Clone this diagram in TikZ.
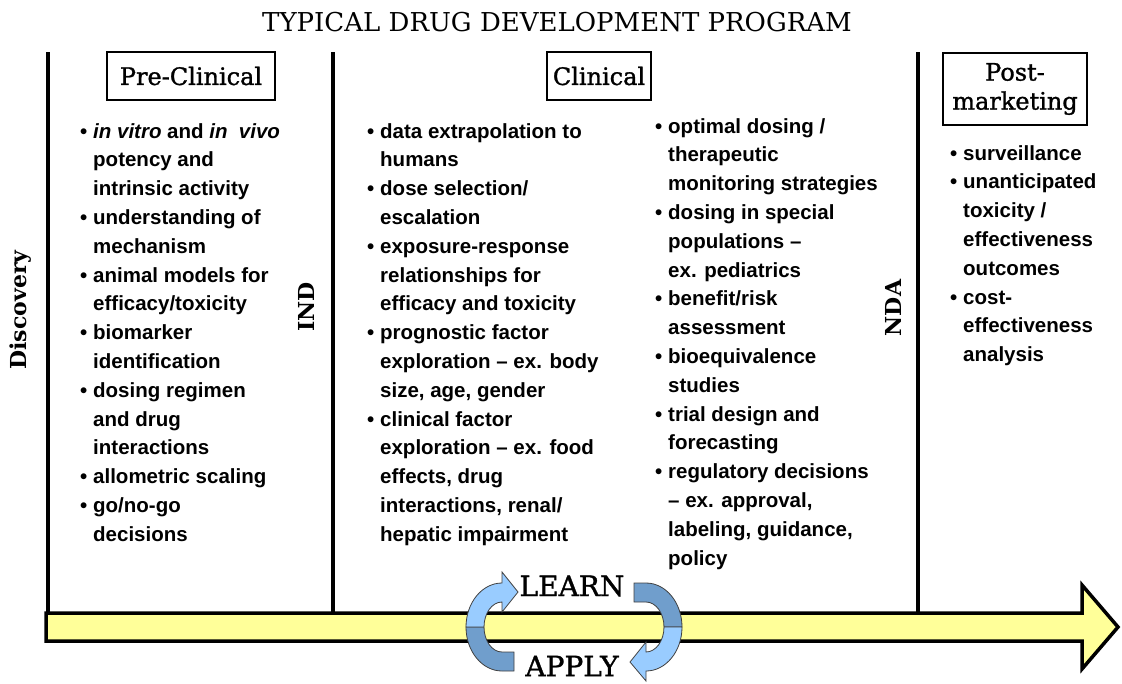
\documentclass[tikz,border=0pt]{standalone}
\usepackage{fontspec}
\setmainfont{DejaVu Serif}
\newfontfamily\headfont[FakeBold=1.2]{DejaVu Serif}
\newfontfamily\listfont[Ligatures=TeX]{Liberation Sans}
\usetikzlibrary{positioning}
\definecolor{timelineyellow}{RGB}{255,255,153}
\definecolor{cyclelight}{RGB}{153,204,255}
\definecolor{cycledark}{RGB}{112,158,204}
\newcommand{\bitem}{\makebox[13pt][l]{\textbullet}}
\newcommand{\bcont}{\hspace*{13pt}}

\begin{document}
\begin{tikzpicture}[x=1pt, y=-1pt,
    every node/.style={inner sep=0pt},
    phase/.style={rectangle, draw=black, line width=1.3pt, fill=white, font=\headfont\fontsize{24}{29}\selectfont, minimum height=48pt, align=center},
    bullets/.style={anchor=north west, align=left, font=\listfont\bfseries\fontsize{20.5}{28.8}\selectfont},
    milestone/.style={rotate=90, font=\bfseries\fontsize{22}{26}\selectfont},
    divider/.style={line width=3.5pt},
    timeline/.style={line width=3.5pt, fill=timelineyellow, line join=miter},
    cyclelabel/.style={font=\headfont\fontsize{28}{30}\selectfont},
    ribbon/.style={draw=black!75, line width=0.8pt}
]
\useasboundingbox (0,0) rectangle (1122,683);

% Title and phase headers
\node[font=\fontsize{26}{30}\selectfont] (title) at (557,22) {TYPICAL DRUG DEVELOPMENT PROGRAM};
\node[phase, minimum width=168pt] (pre) at (191,76) {Pre-Clinical};
\node[phase, minimum width=104pt] (clin) at (599,76) {Clinical};
\node[phase, minimum width=144pt, minimum height=72pt] (post) at (1015,89) {Post-\\marketing};

% Phase dividers
\draw[divider] (48,52) -- (48,614);
\draw[divider] (333,52) -- (333,614);
\draw[divider] (918,52) -- (918,614);

% Milestones along the dividers
\node[milestone] (disc) at (21,310) {Discovery};
\node[milestone] (ind) at (306,307) {IND};
\node[milestone] (nda) at (893,308) {NDA};

% Activities per phase
\node[bullets] (precol) at (80,123) {%
  \bitem\textit{in vitro} and \textit{in}\ \ \textit{vivo}\\
  \bcont potency and\\
  \bcont intrinsic activity\\
  \bitem understanding of\\
  \bcont mechanism\\
  \bitem animal models for\\
  \bcont efficacy/toxicity\\
  \bitem biomarker\\
  \bcont identification\\
  \bitem dosing regimen\\
  \bcont and drug\\
  \bcont interactions\\
  \bitem allometric scaling\\
  \bitem go/no-go\\
  \bcont decisions};

\node[bullets] (clinleft) at (367,123) {%
  \bitem data extrapolation to\\
  \bcont humans\\
  \bitem dose selection/\\
  \bcont escalation\\
  \bitem exposure-response\\
  \bcont relationships for\\
  \bcont efficacy and toxicity\\
  \bitem prognostic factor\\
  \bcont exploration -- ex. body\\
  \bcont size, age, gender\\
  \bitem clinical factor\\
  \bcont exploration -- ex. food\\
  \bcont effects, drug\\
  \bcont interactions, renal/\\
  \bcont hepatic impairment};

\node[bullets] (clinright) at (655,118) {%
  \bitem optimal dosing /\\
  \bcont therapeutic\\
  \bcont monitoring strategies\\
  \bitem dosing in special\\
  \bcont populations --\\
  \bcont ex. pediatrics\\
  \bitem benefit/risk\\
  \bcont assessment\\
  \bitem bioequivalence\\
  \bcont studies\\
  \bitem trial design and\\
  \bcont forecasting\\
  \bitem regulatory decisions\\
  \bcont -- ex. approval,\\
  \bcont labeling, guidance,\\
  \bcont policy};

\node[bullets] (postcol) at (950,145) {%
  \bitem surveillance\\
  \bitem unanticipated\\
  \bcont toxicity /\\
  \bcont effectiveness\\
  \bcont outcomes\\
  \bitem cost-\\
  \bcont effectiveness\\
  \bcont analysis};

% Timeline arrow
\draw[timeline] (46,613) -- (1082,613) -- (1082,585) -- (1118,627) -- (1082,669) -- (1082,641) -- (46,641) -- cycle;

% Learn / apply cycle around the timeline
\draw[ribbon, fill=cycledark] (502,671) arc[start angle=90, end angle=180, x radius=36, y radius=44]
  -- (484,627) arc[start angle=180, end angle=90, x radius=18, y radius=25] -- (514,652) -- (514,671) -- cycle;
\draw[ribbon, fill=cyclelight] (466,627) arc[start angle=180, end angle=270, x radius=36, y radius=44]
  -- (502,572) -- (518,592) -- (502,612) -- (502,602) arc[start angle=270, end angle=180, x radius=18, y radius=25] -- cycle;
\draw[ribbon, fill=cycledark] (646,583) arc[start angle=270, end angle=360, x radius=36, y radius=44]
  -- (664,627) arc[start angle=360, end angle=270, x radius=18, y radius=25] -- (634,602) -- (634,583) -- cycle;
\draw[ribbon, fill=cyclelight] (682,627) arc[start angle=0, end angle=90, x radius=36, y radius=44]
  -- (646,681) -- (630,662) -- (646,642) -- (646,652) arc[start angle=90, end angle=0, x radius=18, y radius=25] -- cycle;

\node[cyclelabel] (learn) at (572,586) {LEARN};
\node[cyclelabel] (apply) at (572,666) {APPLY};

\end{tikzpicture}
\end{document}
